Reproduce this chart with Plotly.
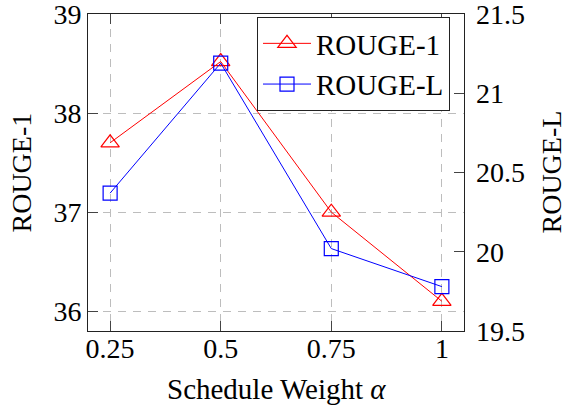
import plotly.graph_objects as go

weights = [0.25, 0.5, 0.75, 1.0]
x_tick_labels = ["0.25", "0.5", "0.75", "1"]
rouge1 = [37.7, 38.52, 37.0, 36.1]
rougeL = [20.37, 21.19, 20.02, 19.78]
y1_ticks = [36, 37, 38, 39]
y2_ticks = [19.5, 20, 20.5, 21, 21.5]
y2_tick_labels = ["19.5", "20", "20.5", "21", "21.5"]

FONT = "Liberation Serif, Times New Roman, DejaVu Serif, serif"
FS = 28

L, R, T, B = 88, 105, 14, 79
W, H = 569, 410
PW, PH = W - L - R, H - T - B

fig = go.Figure()
fig.add_trace(go.Scatter(
    x=weights, y=rouge1, name="ROUGE-1", mode="lines+markers",
    line=dict(color="#ff0000", width=1),
    marker=dict(symbol="triangle-up-open", size=16, color="#ff0000", line=dict(color="#ff0000", width=1.2)),
    yaxis="y"))
fig.add_trace(go.Scatter(
    x=weights, y=rougeL, name="ROUGE-L", mode="lines+markers",
    line=dict(color="#0000ff", width=1),
    marker=dict(symbol="square-open", size=14, color="#0000ff", line=dict(color="#0000ff", width=1.2)),
    yaxis="y2"))

grid = dict(gridcolor="#bdbdbd", griddash="8px,7px", gridwidth=1)

fig.update_layout(
    width=W, height=H,
    margin=dict(l=L, r=R, t=T, b=B, autoexpand=False),
    plot_bgcolor="white", paper_bgcolor="white",
    font=dict(family=FONT, size=FS, color="black"),
    showlegend=True,
    legend=dict(x=(450 - L) / PW, xanchor="right", y=1 - (17 - T) / PH, yanchor="top",
                bgcolor="white", bordercolor="#222", borderwidth=1,
                font=dict(family=FONT, size=29), tracegroupgap=0,
                itemsizing="trace", itemwidth=48),
    xaxis=dict(range=[0.2, 1.05], tickvals=weights, ticktext=x_tick_labels,
               showgrid=True, **grid, zeroline=False, automargin=False,
               showline=True, linecolor="#222", linewidth=1, mirror="ticks",
               ticks="inside", ticklen=10, tickcolor="#444",
               ticklabelstandoff=-8, ticklabeloverflow="allow"),
    yaxis=dict(range=[35.8, 39.0001], tickvals=y1_ticks,
               showgrid=True, **grid, zeroline=False, automargin=False,
               showline=True, linecolor="#222", linewidth=1, mirror=True,
               ticks="inside", ticklen=10, tickcolor="#444",
               ticklabeloverflow="allow"),
    yaxis2=dict(range=[19.5, 21.5001], tickvals=y2_ticks, ticktext=y2_tick_labels,
                overlaying="y", side="right", showgrid=False, zeroline=False,
                automargin=False, showline=False, ticks="inside", ticklen=10,
                tickcolor="#444", ticklabeloverflow="allow", ticklabelstandoff=11),
    annotations=[
        dict(text="Schedule Weight <i>α</i>", xref="paper", yref="paper",
             x=0.5, y=-(389 - (T + PH)) / PH, xanchor="center", yanchor="middle",
             showarrow=False, font=dict(family=FONT, size=29)),
        dict(text="ROUGE-1", xref="paper", yref="paper",
             x=(21 - L) / PW, y=0.5, xanchor="center", yanchor="middle",
             textangle=-90, showarrow=False, font=dict(family=FONT, size=FS)),
        dict(text="ROUGE-L", xref="paper", yref="paper",
             x=(551 - L) / PW, y=0.5, xanchor="center", yanchor="middle",
             textangle=-90, showarrow=False, font=dict(family=FONT, size=FS)),
    ],
)

fig.write_html("out.html", config={"displayModeBar": False},
               post_script="document.body.style.margin='0px';document.body.style.padding='0px';document.body.style.overflow='hidden';")
